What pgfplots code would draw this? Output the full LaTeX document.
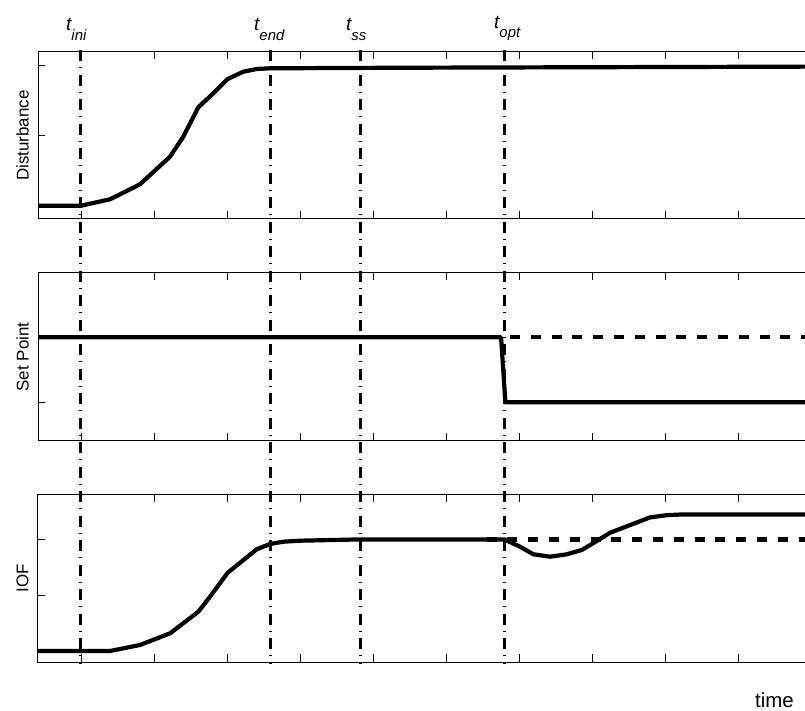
\documentclass[border=0pt]{standalone}
\usepackage{fontspec}
\setmainfont{Liberation Sans}
\usepackage{pgfplots}
\pgfplotsset{compat=1.18}
\newcommand{\tl}[1]{{\fontsize{19}{19}\selectfont\itshape t}\raisebox{-9.5bp}{\fontsize{15}{15}\selectfont\itshape #1}}
\begin{document}
\begin{tikzpicture}
\useasboundingbox (0bp,0bp) rectangle (805bp,711bp);
\clip (0bp,0bp) rectangle (805bp,711bp);
\pgfplotsset{
  panel/.style={
    scale only axis, width=774bp, xmin=-5.87, xmax=100,
    xtick={0,10,...,100}, xticklabels={}, yticklabels={},
    tick align=inside, major tick length=7.5bp,
    every tick/.style={black,line width=0.8bp},
    axis line style={line width=1bp},
    ylabel style={at={(axis description cs:-0.02003,0.5)},anchor=center,font=\fontsize{17}{17}\selectfont},
    anchor=south west,
  },
  curve/.style={black,line width=4.2bp,line join=round},
  dashedc/.style={black,line width=4.2bp,dash pattern=on 10bp off 10.8bp},
  vline/.style={black,line width=3bp,dash pattern=on 11bp off 6.25bp on 1bp off 6.25bp},
}
% Panel 1: Disturbance
\begin{axis}[panel, at={(38bp,492bp)}, height=167bp, ymin=-0.19, ymax=2.196, ytick={0,1,2}, ylabel={Disturbance}]
\addplot[curve] coordinates {(-5.87,0) (0,0) (3.98,0.091) (8.08,0.306) (12.19,0.70) (14.0,0.986) (16.06,1.406) (18.11,1.606) (20.08,1.81) (22.2,1.914) (24.05,1.953) (25.87,1.963) (43.65,1.971) (100,1.987)};
\end{axis}
% Panel 2: Set Point
\begin{axis}[panel, at={(38bp,270bp)}, height=168bp, ymin=-0.595, ymax=1.99, ytick={0,1}, ylabel={Set Point}]
\addplot[curve] coordinates {(-5.87,1) (57.47,1) (58.06,0) (100,0)};
\addplot[dashedc, dash phase=16.1bp] coordinates {(58.06,1) (100,1)};
\end{axis}
% Panel 3: IOF
\begin{axis}[panel, at={(38bp,49bp)}, height=167bp, ymin=-0.197, ymax=2.796, ytick={0,1,2}, ylabel={IOF}]
\addplot[dashedc] coordinates {(55.5,2) (100,2)};
\addplot[curve] coordinates {(-5.87,0) (3.98,0) (8.08,0.108) (12.19,0.317) (16.06,0.704) (17.66,0.973) (20.08,1.403) (24.05,1.823) (25.87,1.918) (27.69,1.959) (29.97,1.977) (38.18,2.0) (55.51,2.0) (57.92,2.0) (60.07,1.869) (61.89,1.733) (64.17,1.690) (66.46,1.733) (68.51,1.810) (70.56,1.971) (72.38,2.120) (77.85,2.394) (80.14,2.435) (82.41,2.448) (100,2.448)};
\end{axis}
% Overlay: event times
\begin{axis}[at={(38bp,49bp)}, anchor=south west, scale only axis, width=774bp, height=610bp,
  xmin=-5.87, xmax=100, ymin=52, ymax=662, y dir=reverse, hide axis, clip=false]
\addplot[vline] coordinates {(0,50) (0,664)};
\addplot[vline] coordinates {(25.87,50) (25.87,664)};
\addplot[vline] coordinates {(38.18,50) (38.18,664)};
\addplot[vline] coordinates {(57.92,50) (57.92,664)};
\end{axis}
\node[anchor=base west,inner sep=0] at (66bp,680.3bp) {\tl{ini}};
\node[anchor=base west,inner sep=0] at (254bp,680.3bp) {\tl{end}};
\node[anchor=base west,inner sep=0] at (346bp,680.3bp) {\tl{ss}};
\node[anchor=base west,inner sep=0] at (494bp,682.7bp) {\tl{opt}};
\node[anchor=base,inner sep=0,font=\fontsize{20.5}{20.5}\selectfont] at (774.5bp,4bp) {time};
\end{tikzpicture}
\end{document}
